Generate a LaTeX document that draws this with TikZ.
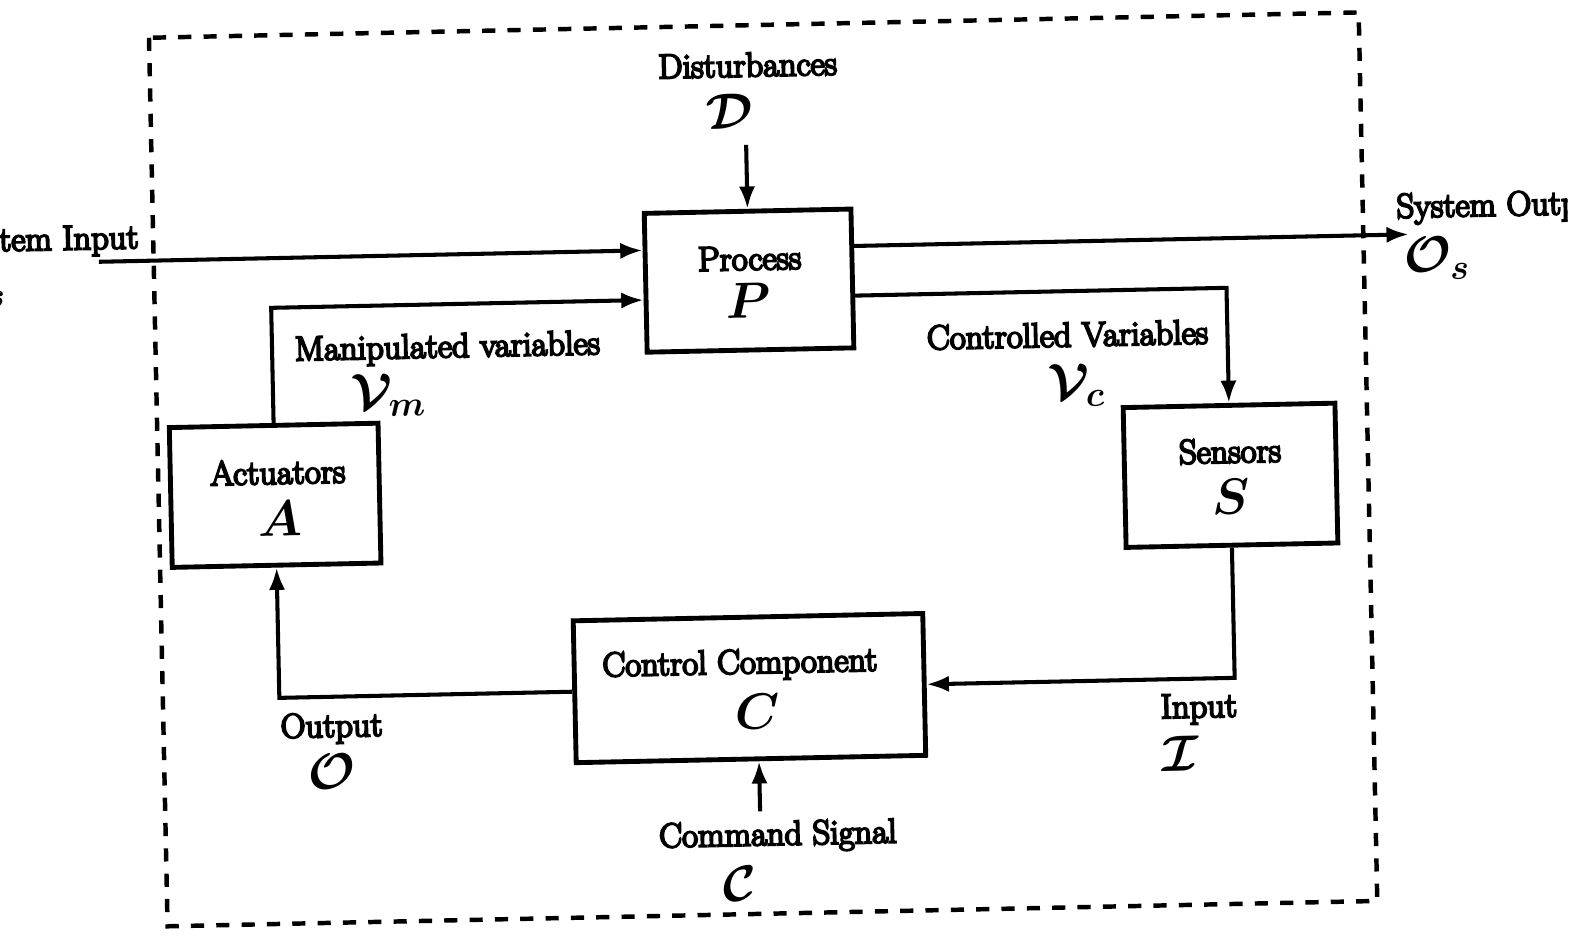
\RequirePackage{fix-cm}
\documentclass[tikz,border=0pt]{standalone}
\usepackage{fontspec}
\setmainfont{Latin Modern Roman}
\newfontfamily\heavyrm{Latin Modern Roman}[RawFeature={embolden=6}]
\usetikzlibrary{arrows.meta,calc}

\begin{document}
\begin{tikzpicture}[x=0.5pt,y=-0.5pt,
  blk/.style={draw,line width=2.4pt,inner sep=0pt},
  lbl/.style={font=\heavyrm\fontsize{17}{20}\selectfont,inner sep=0pt},
  sym/.style={font=\fontsize{25}{30}\selectfont\boldmath,inner sep=0pt},
  wire/.style={line width=2pt},
  flow/.style={wire,-{Latex[length=11pt,width=8pt]}},
  boundary/.style={line width=2.2pt,dash pattern=on 6.5pt off 6pt}]
\useasboundingbox (0,0) rectangle (1568,923);
\clip (0,0) rectangle (1547,923);
\begin{scope}[rotate around={1.2:(784,461)},transform shape]
  % system boundary
  \draw[boundary] (156,24) rectangle (1350,901);

  % blocks
  \node[blk,minimum width=102pt,minimum height=68.5pt] (P) at (743,276) {};
  \node[blk,minimum width=103pt,minimum height=69pt] (A) at (271,478) {};
  \node[blk,minimum width=104.5pt,minimum height=69pt] (S) at (1214,478) {};
  \node[blk,minimum width=172.5pt,minimum height=70pt] (C) at (735,678) {};

  % block captions
  \node[lbl] (Pt) at (744,254) {Process};
  \node[sym] (Ps) at (742,296) {$P$};
  \node[lbl] (At) at (274,455) {Actuators};
  \node[sym] (As) at (275,501) {$A$};
  \node[lbl] (St) at (1214,454) {Sensors};
  \node[sym] (Ss) at (1214,499) {$S$};
  \node[lbl] (Ct) at (726,655) {Control Component};
  \node[sym] (Cs) at (743,701) {$C$};

  % free ends of the signal lines
  \coordinate (sysin) at (102,244);
  \coordinate (sysout) at (1395,244);
  \coordinate (dist) at (743,142);
  \coordinate (cmd) at (743,800);

  % signal flow
  \draw[flow] (sysin) -- (sysin -| P.west);
  \draw[flow] (sysout -| P.east) -- (sysout);
  \draw[flow] (A.north) |- ($(P.west)+(0,17)$);
  \draw[flow] ($(P.east)+(0,17)$) -| (S.north);
  \draw[flow] (S.south) |- (C.east);
  \draw[flow] (C.west) -| (A.south);
  \draw[flow] (dist) -- (P.north);
  \draw[flow] (cmd) -- (cmd |- C.south);

  % signal labels
  \node[lbl] (Dt) at (746,63) {Disturbances};
  \node[sym] (Ds) at (727,109) {$\mathcal{D}$};
  \node[lbl,anchor=east] (It) at (142,223) {System Input};
  \node[sym,anchor=east] (Is) at (10,266) {$\mathcal{I}_s$};
  \node[lbl,anchor=west] (Ot) at (1383,219) {System Output};
  \node[sym] (Os) at (1422,268) {$\mathcal{O}_s$};
  \node[lbl] (Mt) at (444,337) {Manipulated variables};
  \node[sym] (Ms) at (385,382) {$\mathcal{V}_m$};
  \node[lbl] (Vt) at (1056,336) {Controlled Variables};
  \node[sym] (Vs) at (1064,386) {$\mathcal{V}_c$};
  \node[lbl] (Ot2) at (322,709) {Output};
  \node[sym] (Os2) at (321,752) {$\mathcal{O}$};
  \node[lbl] (Int) at (1178,708) {Input};
  \node[sym] (Ins) at (1159,752) {$\mathcal{I}$};
  \node[lbl] (Kt) at (760,825) {Command Signal};
  \node[sym] (Ks) at (721,871) {$\mathcal{C}$};
\end{scope}
\end{tikzpicture}
\end{document}
